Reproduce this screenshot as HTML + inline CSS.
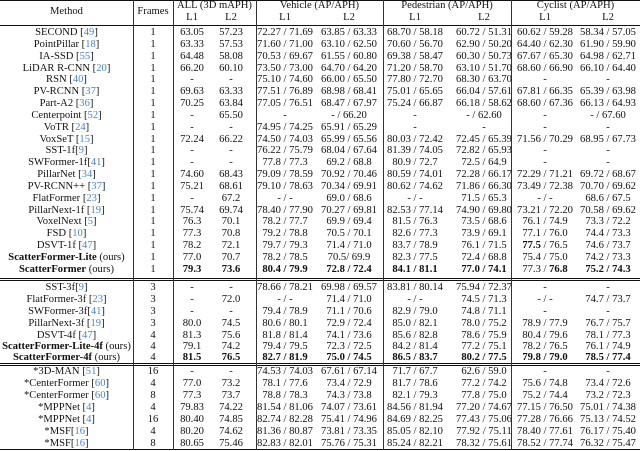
<!DOCTYPE html>
<html><head><meta charset="utf-8"><style>
body{margin:0;background:#fff;}
#t{position:relative;width:640px;height:451px;font-family:"Liberation Serif",serif;font-size:10.6px;color:#111;overflow:hidden}
.r{position:absolute;left:0;width:640px;height:12px;line-height:12px;white-space:nowrap}
.r span{position:absolute;text-align:center;top:0}
.m{left:0;width:133px}
.f{left:133px;width:40px}
.a{left:172px;width:40px}
.b{left:211px;width:40px}
.c{left:245px;width:80px}
.d{left:309px;width:80px}
.e{left:375px;width:80px}
.g{left:444px;width:80px}
.h{left:505px;width:80px}
.i{left:568px;width:80px}
.k{color:#4a86c8}
b{font-weight:bold}
.hl{position:absolute;left:0;width:640px;background:#111}
.vl{position:absolute;width:1px;background:#333;top:0;height:450px}
</style></head><body><div id="t">
<div class="hl" style="top:0;height:1px"></div>
<div class="hl" style="top:25px;height:1px"></div>
<div class="hl" style="top:278px;height:1px"></div>
<div class="hl" style="top:280px;height:1px"></div>
<div class="hl" style="top:363px;height:1px"></div>
<div class="hl" style="top:365px;height:1px"></div>
<div class="hl" style="top:449px;height:1px"></div>
<div class="vl" style="left:133px"></div>
<div class="vl" style="left:173px"></div>
<div class="vl" style="left:256px"></div>
<div class="vl" style="left:383px"></div>
<div class="vl" style="left:511px"></div>

<div class="r" style="top:6px"><span class="m">Method</span><span class="f">Frames</span></div>
<div class="r" style="top:0px"><span style="left:173px;width:83px">ALL (3D mAPH)</span><span style="left:256px;width:127px">Vehicle (AP/APH)</span><span style="left:383px;width:128px">Pedestrian (AP/APH)</span><span style="left:511px;width:129px">Cyclist (AP/APH)</span></div>
<div class="r" style="top:12px"><span class="a">L1</span><span class="b">L2</span><span class="c">L1</span><span class="d">L2</span><span class="e">L1</span><span class="g">L2</span><span class="h">L1</span><span class="i">L2</span></div>

<div class="r" style="top:27px"><span class="m">SECOND [<font class="k">49</font>]</span><span class="f">1</span><span class="a">63.05</span><span class="b">57.23</span><span class="c">72.27 / 71.69</span><span class="d">63.85 / 63.33</span><span class="e">68.70 / 58.18</span><span class="g">60.72 / 51.31</span><span class="h">60.62 / 59.28</span><span class="i">58.34 / 57.05</span></div>
<div class="r" style="top:39px"><span class="m">PointPillar [<font class="k">18</font>]</span><span class="f">1</span><span class="a">63.33</span><span class="b">57.53</span><span class="c">71.60 / 71.00</span><span class="d">63.10 / 62.50</span><span class="e">70.60 / 56.70</span><span class="g">62.90 / 50.20</span><span class="h">64.40 / 62.30</span><span class="i">61.90 / 59.90</span></div>
<div class="r" style="top:51px"><span class="m">IA-SSD [<font class="k">55</font>]</span><span class="f">1</span><span class="a">64.48</span><span class="b">58.08</span><span class="c">70.53 / 69.67</span><span class="d">61.55 / 60.80</span><span class="e">69.38 / 58.47</span><span class="g">60.30 / 50.73</span><span class="h">67.67 / 65.30</span><span class="i">64.98 / 62.71</span></div>
<div class="r" style="top:63px"><span class="m">LiDAR R-CNN [<font class="k">20</font>]</span><span class="f">1</span><span class="a">66.20</span><span class="b">60.10</span><span class="c">73.50 / 73.00</span><span class="d">64.70 / 64.20</span><span class="e">71.20 / 58.70</span><span class="g">63.10 / 51.70</span><span class="h">68.60 / 66.90</span><span class="i">66.10 / 64.40</span></div>
<div class="r" style="top:74px"><span class="m">RSN [<font class="k">40</font>]</span><span class="f">1</span><span class="a">-</span><span class="b">-</span><span class="c">75.10 / 74.60</span><span class="d">66.00 / 65.50</span><span class="e">77.80 / 72.70</span><span class="g">68.30 / 63.70</span><span class="h">-</span><span class="i">-</span></div>
<div class="r" style="top:86px"><span class="m">PV-RCNN [<font class="k">37</font>]</span><span class="f">1</span><span class="a">69.63</span><span class="b">63.33</span><span class="c">77.51 / 76.89</span><span class="d">68.98 / 68.41</span><span class="e">75.01 / 65.65</span><span class="g">66.04 / 57.61</span><span class="h">67.81 / 66.35</span><span class="i">65.39 / 63.98</span></div>
<div class="r" style="top:98px"><span class="m">Part-A2 [<font class="k">36</font>]</span><span class="f">1</span><span class="a">70.25</span><span class="b">63.84</span><span class="c">77.05 / 76.51</span><span class="d">68.47 / 67.97</span><span class="e">75.24 / 66.87</span><span class="g">66.18 / 58.62</span><span class="h">68.60 / 67.36</span><span class="i">66.13 / 64.93</span></div>
<div class="r" style="top:110px"><span class="m">Centerpoint [<font class="k">52</font>]</span><span class="f">1</span><span class="a">-</span><span class="b">65.50</span><span class="c">-</span><span class="d">- / 66.20</span><span class="e">-</span><span class="g">- / 62.60</span><span class="h">-</span><span class="i">- / 67.60</span></div>
<div class="r" style="top:122px"><span class="m">VoTR [<font class="k">24</font>]</span><span class="f">1</span><span class="a">-</span><span class="b">-</span><span class="c">74.95 / 74.25</span><span class="d">65.91 / 65.29</span><span class="e">-</span><span class="g">-</span><span class="h">-</span><span class="i">-</span></div>
<div class="r" style="top:134px"><span class="m">VoxSeT [<font class="k">15</font>]</span><span class="f">1</span><span class="a">72.24</span><span class="b">66.22</span><span class="c">74.50 / 74.03</span><span class="d">65.99 / 65.56</span><span class="e">80.03 / 72.42</span><span class="g">72.45 / 65.39</span><span class="h">71.56 / 70.29</span><span class="i">68.95 / 67.73</span></div>
<div class="r" style="top:145px"><span class="m">SST-1f[<font class="k">9</font>]</span><span class="f">1</span><span class="a">-</span><span class="b">-</span><span class="c">76.22 / 75.79</span><span class="d">68.04 / 67.64</span><span class="e">81.39 / 74.05</span><span class="g">72.82 / 65.93</span><span class="h">-</span><span class="i">-</span></div>
<div class="r" style="top:157px"><span class="m">SWFormer-1f[<font class="k">41</font>]</span><span class="f">1</span><span class="a">-</span><span class="b">-</span><span class="c">77.8 / 77.3</span><span class="d">69.2 / 68.8</span><span class="e">80.9 / 72.7</span><span class="g">72.5 / 64.9</span><span class="h">-</span><span class="i">-</span></div>
<div class="r" style="top:169px"><span class="m">PillarNet [<font class="k">34</font>]</span><span class="f">1</span><span class="a">74.60</span><span class="b">68.43</span><span class="c">79.09 / 78.59</span><span class="d">70.92 / 70.46</span><span class="e">80.59 / 74.01</span><span class="g">72.28 / 66.17</span><span class="h">72.29 / 71.21</span><span class="i">69.72 / 68.67</span></div>
<div class="r" style="top:181px"><span class="m">PV-RCNN++ [<font class="k">37</font>]</span><span class="f">1</span><span class="a">75.21</span><span class="b">68.61</span><span class="c">79.10 / 78.63</span><span class="d">70.34 / 69.91</span><span class="e">80.62 / 74.62</span><span class="g">71.86 / 66.30</span><span class="h">73.49 / 72.38</span><span class="i">70.70 / 69.62</span></div>
<div class="r" style="top:193px"><span class="m">FlatFormer [<font class="k">23</font>]</span><span class="f">1</span><span class="a">-</span><span class="b">67.2</span><span class="c">- / -</span><span class="d">69.0 / 68.6</span><span class="e">- / -</span><span class="g">71.5 / 65.3</span><span class="h">- / -</span><span class="i">68.6 / 67.5</span></div>
<div class="r" style="top:205px"><span class="m">PillarNext-1f [<font class="k">19</font>]</span><span class="f">1</span><span class="a">75.74</span><span class="b">69.74</span><span class="c">78.40 / 77.90</span><span class="d">70.27 / 69.81</span><span class="e">82.53 / 77.14</span><span class="g">74.90 / 69.80</span><span class="h">73.21 / 72.20</span><span class="i">70.58 / 69.62</span></div>
<div class="r" style="top:216px"><span class="m">VoxelNext [<font class="k">5</font>]</span><span class="f">1</span><span class="a">76.3</span><span class="b">70.1</span><span class="c">78.2 / 77.7</span><span class="d">69.9 / 69.4</span><span class="e">81.5 / 76.3</span><span class="g">73.5 / 68.6</span><span class="h">76.1 / 74.9</span><span class="i">73.3 / 72.2</span></div>
<div class="r" style="top:228px"><span class="m">FSD [<font class="k">10</font>]</span><span class="f">1</span><span class="a">77.3</span><span class="b">70.8</span><span class="c">79.2 / 78.8</span><span class="d">70.5 / 70.1</span><span class="e">82.6 / 77.3</span><span class="g">73.9 / 69.1</span><span class="h">77.1 / 76.0</span><span class="i">74.4 / 73.3</span></div>
<div class="r" style="top:240px"><span class="m">DSVT-1f [<font class="k">47</font>]</span><span class="f">1</span><span class="a">78.2</span><span class="b">72.1</span><span class="c">79.7 / 79.3</span><span class="d">71.4 / 71.0</span><span class="e">83.7 / 78.9</span><span class="g">76.1 / 71.5</span><span class="h"><b>77.5</b> / 76.5</span><span class="i">74.6 / 73.7</span></div>
<div class="r" style="top:252px"><span class="m"><b>ScatterFormer-Lite</b> (ours)</span><span class="f">1</span><span class="a">77.0</span><span class="b">70.7</span><span class="c">78.2 / 78.5</span><span class="d">70.5/ 69.9</span><span class="e">82.3 / 77.5</span><span class="g">72.4 / 68.8</span><span class="h">75.4 / 75.0</span><span class="i">74.2 / 73.3</span></div>
<div class="r" style="top:264px"><span class="m"><b>ScatterFormer</b> (ours)</span><span class="f">1</span><span class="a"><b>79.3</b></span><span class="b"><b>73.6</b></span><span class="c"><b>80.4 / 79.9</b></span><span class="d"><b>72.8 / 72.4</b></span><span class="e"><b>84.1 / 81.1</b></span><span class="g"><b>77.0 / 74.1</b></span><span class="h">77.3 / <b>76.8</b></span><span class="i"><b>75.2 / 74.3</b></span></div>

<div class="r" style="top:282px"><span class="m">SST-3f[<font class="k">9</font>]</span><span class="f">3</span><span class="a">-</span><span class="b">-</span><span class="c">78.66 / 78.21</span><span class="d">69.98 / 69.57</span><span class="e">83.81 / 80.14</span><span class="g">75.94 / 72.37</span><span class="h">-</span><span class="i">-</span></div>
<div class="r" style="top:294px"><span class="m">FlatFormer-3f [<font class="k">23</font>]</span><span class="f">3</span><span class="a">-</span><span class="b">72.0</span><span class="c">- / -</span><span class="d">71.4 / 71.0</span><span class="e">- / -</span><span class="g">74.5 / 71.3</span><span class="h">- / -</span><span class="i">74.7 / 73.7</span></div>
<div class="r" style="top:306px"><span class="m">SWFormer-3f[<font class="k">41</font>]</span><span class="f">3</span><span class="a">-</span><span class="b">-</span><span class="c">79.4 / 78.9</span><span class="d">71.1 / 70.6</span><span class="e">82.9 / 79.0</span><span class="g">74.8 / 71.1</span><span class="h">-</span><span class="i">-</span></div>
<div class="r" style="top:318px"><span class="m">PillarNext-3f [<font class="k">19</font>]</span><span class="f">3</span><span class="a">80.0</span><span class="b">74.5</span><span class="c">80.6 / 80.1</span><span class="d">72.9 / 72.4</span><span class="e">85.0 / 82.1</span><span class="g">78.0 / 75.2</span><span class="h">78.9 / 77.9</span><span class="i">76.7 / 75.7</span></div>
<div class="r" style="top:330px"><span class="m">DSVT-4f [<font class="k">47</font>]</span><span class="f">4</span><span class="a">81.3</span><span class="b">75.6</span><span class="c">81.8 / 81.4</span><span class="d">74.1 / 73.6</span><span class="e">85.6 / 82.8</span><span class="g">78.6 / 75.9</span><span class="h">80.4 / 79.6</span><span class="i">78.1 / 77.3</span></div>
<div class="r" style="top:341px"><span class="m"><b>ScatterFormer-Lite-4f</b> (ours)</span><span class="f">4</span><span class="a">79.1</span><span class="b">74.2</span><span class="c">79.4 / 79.5</span><span class="d">72.3 / 72.5</span><span class="e">84.2 / 81.4</span><span class="g">77.2 / 75.1</span><span class="h">78.2 / 76.5</span><span class="i">76.1 / 74.9</span></div>
<div class="r" style="top:352px"><span class="m"><b>ScatterFormer-4f</b> (ours)</span><span class="f">4</span><span class="a"><b>81.5</b></span><span class="b"><b>76.5</b></span><span class="c"><b>82.7 / 81.9</b></span><span class="d"><b>75.0 / 74.5</b></span><span class="e"><b>86.5 / 83.7</b></span><span class="g"><b>80.2 / 77.5</b></span><span class="h"><b>79.8 / 79.0</b></span><span class="i"><b>78.5 / 77.4</b></span></div>

<div class="r" style="top:366px"><span class="m">*3D-MAN [<font class="k">51</font>]</span><span class="f">16</span><span class="a">-</span><span class="b">-</span><span class="c">74.53 / 74.03</span><span class="d">67.61 / 67.14</span><span class="e">71.7 / 67.7</span><span class="g">62.6 / 59.0</span><span class="h">-</span><span class="i">-</span></div>
<div class="r" style="top:378px"><span class="m">*CenterFormer [<font class="k">60</font>]</span><span class="f">4</span><span class="a">77.0</span><span class="b">73.2</span><span class="c">78.1 / 77.6</span><span class="d">73.4 / 72.9</span><span class="e">81.7 / 78.6</span><span class="g">77.2 / 74.2</span><span class="h">75.6 / 74.8</span><span class="i">73.4 / 72.6</span></div>
<div class="r" style="top:390px"><span class="m">*CenterFormer [<font class="k">60</font>]</span><span class="f">8</span><span class="a">77.3</span><span class="b">73.7</span><span class="c">78.8 / 78.3</span><span class="d">74.3 / 73.8</span><span class="e">82.1 / 79.3</span><span class="g">77.8 / 75.0</span><span class="h">75.2 / 74.4</span><span class="i">73.2 / 72.3</span></div>
<div class="r" style="top:402px"><span class="m">*MPPNet [<font class="k">4</font>]</span><span class="f">4</span><span class="a">79.83</span><span class="b">74.22</span><span class="c">81.54 / 81.06</span><span class="d">74.07 / 73.61</span><span class="e">84.56 / 81.94</span><span class="g">77.20 / 74.67</span><span class="h">77.15 / 76.50</span><span class="i">75.01 / 74.38</span></div>
<div class="r" style="top:414px"><span class="m">*MPPNet [<font class="k">4</font>]</span><span class="f">16</span><span class="a">80.40</span><span class="b">74.85</span><span class="c">82.74 / 82.28</span><span class="d">75.41 / 74.96</span><span class="e">84.69 / 82.25</span><span class="g">77.43 / 75.06</span><span class="h">77.28 / 76.66</span><span class="i">75.13 / 74.52</span></div>
<div class="r" style="top:426px"><span class="m">*MSF[<font class="k">16</font>]</span><span class="f">4</span><span class="a">80.20</span><span class="b">74.62</span><span class="c">81.36 / 80.87</span><span class="d">73.81 / 73.35</span><span class="e">85.05 / 82.10</span><span class="g">77.92 / 75.11</span><span class="h">78.40 / 77.61</span><span class="i">76.17 / 75.40</span></div>
<div class="r" style="top:438px"><span class="m">*MSF[<font class="k">16</font>]</span><span class="f">8</span><span class="a">80.65</span><span class="b">75.46</span><span class="c">82.83 / 82.01</span><span class="d">75.76 / 75.31</span><span class="e">85.24 / 82.21</span><span class="g">78.32 / 75.61</span><span class="h">78.52 / 77.74</span><span class="i">76.32 / 75.47</span></div>
</div></body></html>
